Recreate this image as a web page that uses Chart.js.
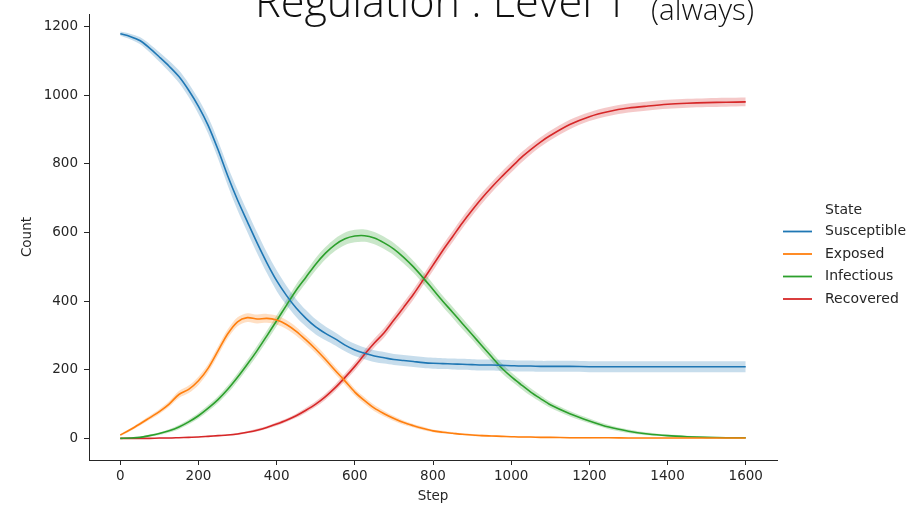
<!DOCTYPE html>
<html>
<head>
<meta charset="utf-8">
<script src="https://cdn.jsdelivr.net/npm/chart.js@4/dist/chart.umd.min.js"></script>
<style>
  html, body { margin: 0; padding: 0; background: #fff; }
  #wrap { width: 910px; height: 506px; }
</style>
</head>
<body>
<div id="wrap"><canvas id="stateChart" width="910" height="506"></canvas></div>
<script>
/* ── SEIR run: mean count per state with confidence band ── */

const steps = [0, 25, 50, 75, 100, 125, 150, 175, 200, 225,
  250, 275, 300, 325, 350, 375, 400, 425, 450, 475,
  500, 525, 550, 575, 600, 625, 650, 675, 700, 725,
  750, 775, 800, 825, 850, 875, 900, 925, 950, 975,
  1000, 1025, 1050, 1075, 1100,
  1150, 1200, 1250, 1300, 1350, 1400, 1450, 1500, 1550, 1600];

const susceptible = [1180, 1172, 1160, 1138, 1112, 1085, 1055, 1015, 968, 912,
  842, 765, 695, 632, 570, 512, 460, 417, 380, 350,
  325, 306, 290, 272, 258, 248, 240, 235, 230, 227,
  224, 221, 219, 218, 217, 216, 215, 214, 214, 213,
  212, 211, 211, 210, 210,
  210, 209, 209, 209, 209, 209, 209, 209, 209, 209];

const exposed = [10, 25, 42, 60, 78, 100, 128, 143, 168, 205,
  255, 305, 340, 352, 348, 350, 345, 332, 312, 287,
  260, 230, 198, 167, 135, 110, 88, 72, 58, 46,
  37, 29, 22, 18, 15, 12, 10, 8, 7, 6,
  5, 4, 4, 3, 3,
  2, 2, 2, 1, 1, 1, 1, 1, 1, 1];

const infectious = [0, 1, 3, 8, 14, 22, 33, 48, 66, 88,
  113, 143, 178, 216, 256, 299, 343, 388, 432, 470,
  508, 540, 565, 582, 590, 591, 584, 570, 552, 528,
  500, 468, 434, 400, 368, 335, 303, 270, 238, 206,
  180, 157, 135, 116, 98,
  72, 51, 33, 21, 13, 8, 5, 3, 2, 2];

const recovered = [0, 0, 0, 0, 1, 1, 2, 3, 4, 6,
  8, 10, 13, 18, 24, 32, 42, 53, 66, 82,
  100, 122, 148, 178, 210, 245, 278, 308, 345, 382,
  420, 462, 505, 548, 588, 628, 665, 700, 732, 762,
  790, 818, 842, 864, 883,
  915, 938, 953, 963, 969, 974, 977, 979, 980, 981];

/* half-width of the confidence band around each mean */
const susceptibleCi = [6, 8, 10, 12, 14, 16, 18, 20, 22, 24,
  26, 28, 30, 30, 30, 30, 30, 28, 26, 24,
  22, 20, 19, 18, 18, 17, 17, 17, 16, 16,
  16, 16, 16, 16, 16, 16, 16, 16, 16, 16,
  16, 16, 16, 16, 16,
  16, 16, 16, 16, 16, 16, 16, 16, 16, 16];

const exposedCi = [3, 4, 5, 6, 7, 8, 10, 11, 12, 12,
  13, 13, 13, 13, 13, 13, 13, 13, 13, 12,
  12, 12, 11, 11, 10, 10, 9, 8, 7, 6,
  5, 5, 4, 4, 3, 3, 3, 3, 2, 2,
  2, 2, 2, 2, 2,
  2, 2, 1, 1, 1, 1, 1, 1, 1, 1];

const infectiousCi = [1, 1, 2, 3, 4, 5, 6, 7, 8, 9,
  10, 11, 12, 13, 14, 15, 16, 16, 17, 17,
  18, 18, 18, 18, 18, 18, 18, 18, 18, 18,
  17, 17, 17, 16, 16, 16, 15, 15, 14, 14,
  13, 12, 11, 10, 9,
  8, 7, 6, 5, 4, 3, 3, 2, 2, 2];

const recoveredCi = [0, 0, 0, 0, 1, 1, 1, 1, 1, 2,
  2, 2, 3, 3, 4, 4, 5, 5, 6, 7,
  8, 9, 10, 11, 12, 13, 13, 14, 14, 15,
  15, 15, 16, 16, 16, 16, 16, 16, 15, 15,
  15, 15, 14, 14, 14,
  14, 13, 13, 13, 13, 13, 13, 13, 13, 13];

const xTicks = [0, 200, 400, 600, 800, 1000, 1200, 1400, 1600];
const yTicks = [0, 200, 400, 600, 800, 1000, 1200];

const states = [
  { name: "Susceptible", mean: susceptible, ci: susceptibleCi, rgb: "31,119,180" },
  { name: "Exposed",     mean: exposed,     ci: exposedCi,     rgb: "255,127,14" },
  { name: "Infectious",  mean: infectious,  ci: infectiousCi,  rgb: "44,160,44" },
  { name: "Recovered",   mean: recovered,   ci: recoveredCi,   rgb: "214,39,40" },
];

const TICK_FONT = { family: "DejaVu Sans", size: 13.5 };
const INK = "#262626";

function pts(vals) {
  return steps.map((s, i) => ({ x: s, y: vals[i] }));
}

/* each state: mean line + upper edge + lower edge filled back to the upper */
const datasets = [];
states.forEach(st => {
  datasets.push({
    label: st.name,
    data: pts(st.mean),
    borderColor: `rgb(${st.rgb})`,
    borderWidth: 1.6,
    pointRadius: 0,
    tension: 0.3,
    fill: false,
    order: 1,
  });
  datasets.push({
    label: st.name + " hi",
    band: true,
    data: pts(st.mean.map((v, i) => v + st.ci[i])),
    borderWidth: 0,
    borderColor: "transparent",
    pointRadius: 0,
    tension: 0.3,
    fill: false,
    order: 2,
  });
  datasets.push({
    label: st.name + " lo",
    band: true,
    data: pts(st.mean.map((v, i) => v - st.ci[i])),
    borderWidth: 0,
    borderColor: "transparent",
    backgroundColor: `rgba(${st.rgb},0.25)`,
    pointRadius: 0,
    tension: 0.3,
    fill: "-1",
    order: 2,
  });
});

/* ── Title and right-hand legend, drawn straight onto the canvas ── */
const decorPlugin = {
  id: "decor",
  afterDraw(chart) {
    const ctx = chart.ctx;
    ctx.save();

    // title: big main part with a smaller trailing note
    const main = "Regulation : Level 1";
    const note = "(always)";
    ctx.fillStyle = "#111";
    ctx.textBaseline = "alphabetic";
    ctx.textAlign = "left";
    ctx.font = "300 40px 'Open Sans'";
    const mainSize = 40 * 373 / ctx.measureText(main).width;
    ctx.font = `300 ${mainSize}px 'Open Sans'`;
    ctx.fillText(main, 255, 17);
    ctx.font = "300 20px 'Open Sans'";
    const noteSize = 20 * 103 / ctx.measureText(note).width;
    ctx.font = `300 ${noteSize}px 'Open Sans'`;
    ctx.fillText(note, 651, 20);

    // legend
    const lx = 783, tx = 825;
    ctx.font = "14px 'DejaVu Sans'";
    ctx.textBaseline = "middle";
    ctx.fillStyle = INK;
    ctx.fillText("State", tx, 210);
    const lines = chart.data.datasets.filter(d => !d.band);
    lines.forEach((d, i) => {
      const y = 231.5 + i * 22.5;
      ctx.strokeStyle = d.borderColor;
      ctx.lineWidth = 1.8;
      ctx.beginPath();
      ctx.moveTo(lx, y);
      ctx.lineTo(lx + 29, y);
      ctx.stroke();
      ctx.fillStyle = INK;
      ctx.fillText(d.label, tx, y);
    });
    ctx.restore();
  }
};

new Chart(document.getElementById("stateChart"), {
  type: "line",
  data: { datasets },
  plugins: [decorPlugin],
  options: {
    responsive: false,
    animation: false,
    layout: { padding: { top: 7, right: 133, left: 0, bottom: 0 } },
    plugins: {
      legend: { display: false },
      tooltip: { enabled: false },
    },
    scales: {
      x: {
        type: "linear",
        min: -80, max: 1680,
        afterFit: s => { s.height = 46; },
        afterBuildTicks: s => { s.ticks = xTicks.map(v => ({ value: v })); },
        grid: { display: true, drawOnChartArea: false, drawTicks: true, tickLength: 5, tickColor: INK },
        border: { display: true, color: INK, width: 1 },
        ticks: { color: INK, font: TICK_FONT, padding: 3, maxRotation: 0, callback: v => String(v) },
        title: { display: true, text: "Step", color: INK, font: TICK_FONT, padding: { top: 0, bottom: 1 } },
      },
      y: {
        type: "linear",
        min: -63, max: 1237,
        afterFit: s => { s.width = 89; },
        afterBuildTicks: s => { s.ticks = yTicks.map(v => ({ value: v })); },
        grid: { display: true, drawOnChartArea: false, drawTicks: true, tickLength: 5, tickColor: INK },
        border: { display: true, color: INK, width: 1 },
        ticks: { color: INK, font: TICK_FONT, padding: 6, callback: v => String(v) },
        title: { display: true, text: "Count", color: INK, font: TICK_FONT, padding: { top: 19, bottom: 0 } },
      },
    },
  },
});
</script>
</body>
</html>
